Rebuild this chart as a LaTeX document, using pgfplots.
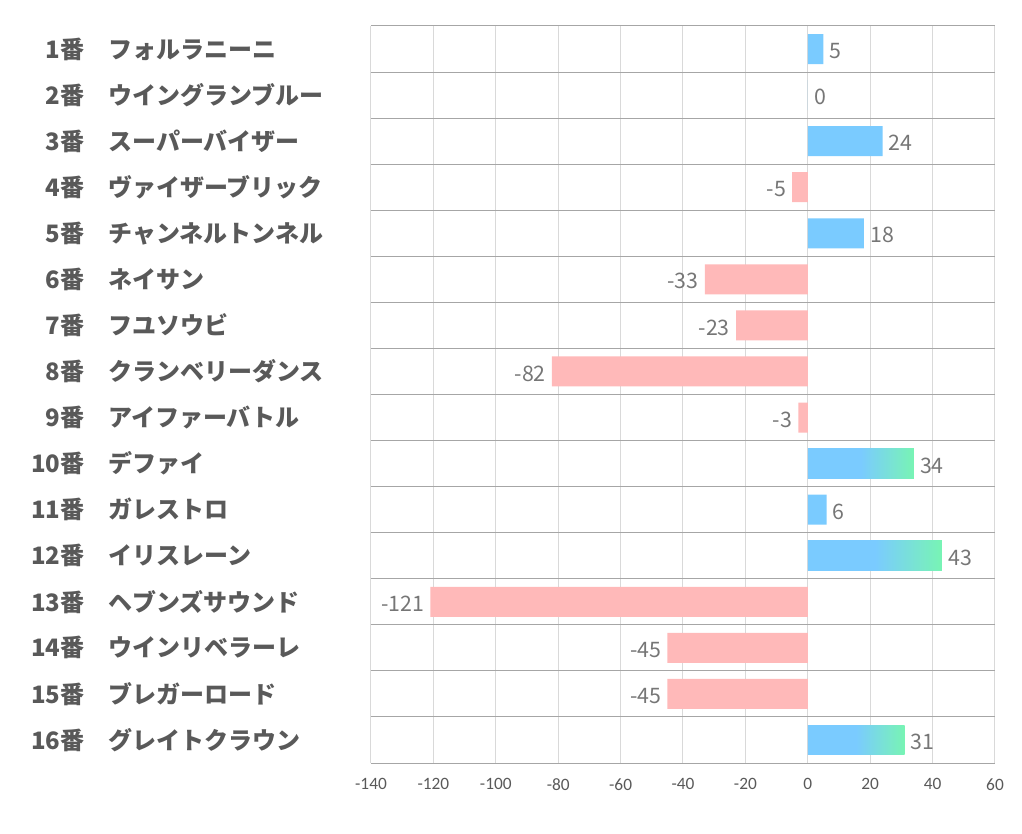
\documentclass[border=0pt]{standalone}
\usepackage{pgfplots}
\pgfplotsset{compat=1.18}
\usepackage{fontspec}
\setmainfont{Carlito}
\newfontfamily\jp{Noto Sans CJK JP}
\definecolor{barblue}{RGB}{122,203,255}
\definecolor{bargreen}{RGB}{120,244,180}
\definecolor{barpink}{RGB}{255,185,185}
\definecolor{labgray}{RGB}{89,89,89}
\definecolor{numgray}{RGB}{118,118,118}
\definecolor{vgray}{RGB}{217,217,217}
\definecolor{hgray}{RGB}{166,166,166}
\pgfdeclarehorizontalshading{bluegreen}{100bp}{color(0bp)=(barblue); color(50bp)=(barblue); color(75bp)=(bargreen); color(100bp)=(bargreen)}
\newcommand\lab[2]{\makebox[47.25pt][r]{#1番}\hspace{18pt}#2}
\begin{document}
\begin{tikzpicture}
\path[use as bounding box] (-278.25pt,-53.25pt) rectangle (488.25pt,572.25pt);
\begin{axis}[at={(0,0)}, anchor=south west, scale only axis,
  width=468pt, height=552.75pt,
  xmin=-140, xmax=60, ymin=0.5, ymax=16.5, y dir=reverse,
  axis line style={draw=none},
  major tick length=0pt, minor tick length=0pt,
  xtick={-140,-120,...,60},
  xmajorgrids, major grid style={color=vgray, line width=0.75pt},
  ytick={1,...,16},
  minor ytick={0.5,1.5,...,16.5},
  yminorgrids, minor grid style={color=hgray, line width=0.75pt},
  yticklabels={
    {\lab{1}{フォルラニーニ}},
    {\lab{2}{ウイングランブルー}},
    {\lab{3}{スーパーバイザー}},
    {\lab{4}{ヴァイザーブリック}},
    {\lab{5}{チャンネルトンネル}},
    {\lab{6}{ネイサン}},
    {\lab{7}{フユソウビ}},
    {\lab{8}{クランベリーダンス}},
    {\lab{9}{アイファーバトル}},
    {\lab{10}{デファイ}},
    {\lab{11}{ガレストロ}},
    {\lab{12}{イリスレーン}},
    {\lab{13}{ヘブンズサウンド}},
    {\lab{14}{ウインリベラーレ}},
    {\lab{15}{ブレガーロード}},
    {\lab{16}{グレイトクラウン}}},
  yticklabel style={anchor=west, inner sep=0pt, xshift=-262.5pt,
    font=\jp\bfseries\fontsize{18}{20}\selectfont, text=labgray},
  xticklabel style={font=\fontsize{13}{15}\selectfont, text=labgray, yshift=-8pt},
  /pgf/number format/assume math mode=true,
  xbar, bar width=0.65,
  point meta=x,
  nodes near coords, nodes near coords align=horizontal,
  every node near coord/.append style={font=\jp\fontsize{16}{18}\selectfont, text=numgray, inner xsep=4.5pt, yshift=-1.5pt},
  clip=false,
]
\addplot[xbar, bar shift=0pt, draw=none, fill=barblue] coordinates {(5,1) (0,2) (24,3) (18,5) (6,11)};
\addplot[xbar, bar shift=0pt, draw=none, fill=barpink] coordinates {(-5,4) (-33,6) (-23,7) (-82,8) (-3,9) (-121,13) (-45,14) (-45,15)};
\addplot[xbar, bar shift=0pt, draw=none, shading=bluegreen] coordinates {(34,10)};
\addplot[xbar, bar shift=0pt, draw=none, shading=bluegreen] coordinates {(43,12)};
\addplot[xbar, bar shift=0pt, draw=none, shading=bluegreen] coordinates {(31,16)};
\end{axis}
\end{tikzpicture}
\end{document}
